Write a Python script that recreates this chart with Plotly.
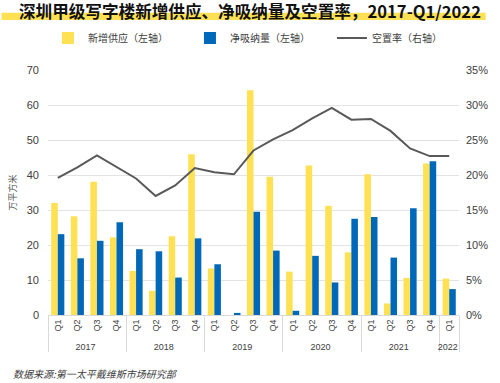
import plotly.graph_objects as go

years = ["2017"] * 4 + ["2018"] * 4 + ["2019"] * 4 + ["2020"] * 4 + ["2021"] * 4 + ["2022"]
quarters = ["Q1", "Q2", "Q3", "Q4"] * 5 + ["Q1"]

new_supply = [32.0, 28.2, 38.1, 22.2, 12.6, 6.9, 22.5, 45.9, 13.3, 0.0, 64.2, 39.5,
              12.4, 42.7, 31.2, 17.9, 40.2, 3.3, 10.6, 43.3, 10.4]
net_absorption = [23.1, 16.2, 21.2, 26.5, 18.8, 18.2, 10.7, 21.9, 14.5, 0.6, 29.5, 18.4,
                  1.2, 16.9, 9.3, 27.5, 28.0, 16.4, 30.5, 43.9, 7.4]
vacancy = [19.6, 21.1, 22.8, 21.1, 19.5, 17.0, 18.5, 21.0, 20.4, 20.1, 23.5, 25.1,
           26.4, 28.1, 29.6, 27.9, 28.0, 26.3, 23.8, 22.7, 22.7]

x = [years, quarters]

fig = go.Figure()
fig.add_trace(go.Bar(x=x, y=new_supply, name="新增供应（左轴）",
                     marker=dict(color="#FFE153", line=dict(width=0))))
fig.add_trace(go.Bar(x=x, y=net_absorption, name="净吸纳量（左轴）",
                     marker=dict(color="#0068B8", line=dict(width=0))))
fig.add_trace(go.Scatter(x=x, y=vacancy, name="空置率（右轴）", yaxis="y2",
                         mode="lines", line=dict(color="#595959", width=2)))

L, R, T, B = 47, 37, 70, 68
W, H = 500, 383
pw, ph = W - L - R, H - T - B

def px(xp):
    return (xp - L) / pw

def py(yp):
    return (H - B - yp) / ph

fig.update_layout(
    width=W, height=H,
    margin=dict(l=L, r=R, t=T, b=B, pad=0),
    paper_bgcolor="white", plot_bgcolor="white",
    font=dict(family="Liberation Sans, Arial, sans-serif", color="#404040", size=11),
    barmode="group", bargap=0.33, bargroupgap=0.0,
    showlegend=True,
    legend=dict(orientation="h", x=-0.0001, y=py(38), xanchor="left", yanchor="middle",
                entrywidth=97, entrywidthmode="pixels",
                font=dict(family="Noto Sans CJK SC", size=10, color="#404040"),
                bgcolor="rgba(0,0,0,0)", tracegroupgap=0, itemwidth=30),
    xaxis=dict(type="multicategory", tickangle=-90, showgrid=False,
               tickfont=dict(size=9, color="#404040"),
               showdividers=True, dividercolor="#D9D9D9", dividerwidth=1,
               showline=True, linecolor="#D9D9D9", linewidth=1, ticks=""),
    yaxis=dict(range=[0, 70], dtick=10, showgrid=True, gridcolor="#E3E3E3", gridwidth=1,
               zeroline=False, showline=False, ticks="", ticklabelstandoff=8,
               tickfont=dict(size=11, color="#404040"),
               title=dict(text="万平方米", font=dict(family="Noto Sans CJK SC", size=9, color="#595959"),
                          standoff=8)),
    yaxis2=dict(range=[0, 35], dtick=5, overlaying="y", side="right", showgrid=False,
                zeroline=False, showline=False, ticksuffix="%", ticks="", ticklabelstandoff=6,
                tickfont=dict(size=11, color="#404040")),
    shapes=[dict(type="rect", xref="paper", yref="paper",
                 x0=px(0), x1=px(490), y0=py(20), y1=py(12.7),
                 fillcolor="#FFE153", line=dict(width=0), layer="below")],
    annotations=[
        dict(text="<b>深圳甲级写字楼新增供应、净吸纳量及空置率，2017-Q1/2022</b>",
             xref="paper", yref="paper", x=px(251), y=py(11), xanchor="center", yanchor="middle",
             showarrow=False, font=dict(family="Noto Sans CJK SC", size=16.6, color="#111111")),
        dict(text="<i>数据来源:第一太平戴维斯市场研究部</i>",
             xref="paper", yref="paper", x=px(10), y=py(373), xanchor="left", yanchor="middle",
             showarrow=False, font=dict(family="Noto Sans CJK SC", size=10, color="#404040")),
    ],
)

fig.write_html("out.html", config={"displayModeBar": False},
               post_script="document.body.style.margin='0';document.body.style.overflow='hidden';")
